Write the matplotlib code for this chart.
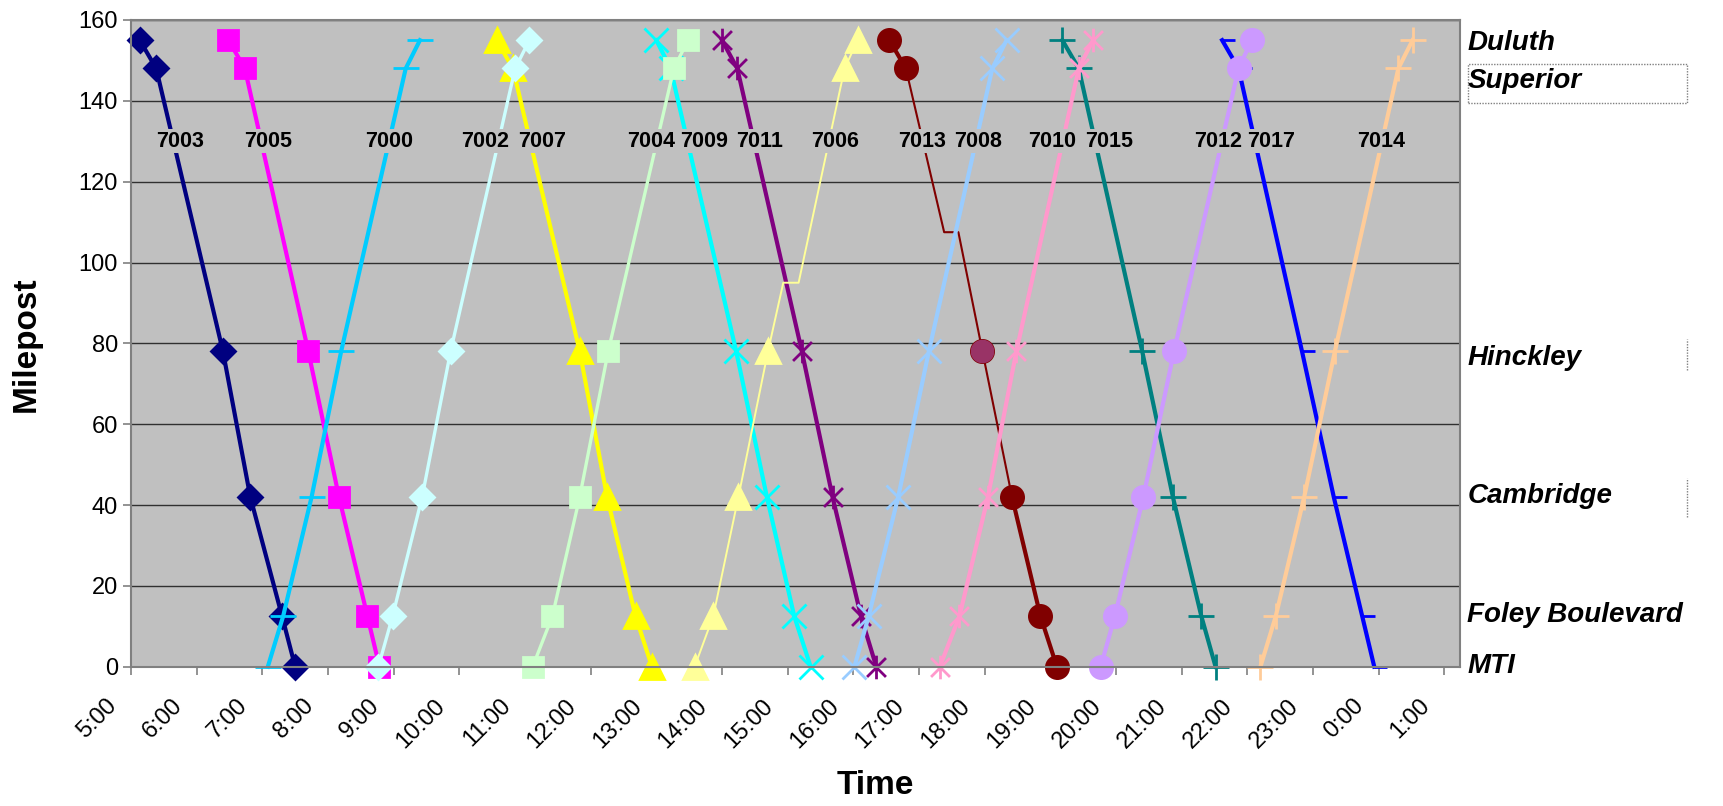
import matplotlib.pyplot as plt
import matplotlib.transforms as mtransforms
from matplotlib.path import Path
from matplotlib.patches import Rectangle

plt.rcParams['font.family'] = ['Liberation Sans', 'DejaVu Sans']

# stations and mileposts (north -> south)
stations = ["Duluth", "Superior", "Hinckley", "Cambridge", "Foley Boulevard", "MTI"]
mileposts = [155, 148, 78, 42, 12.5, 0]
south_mp = mileposts
north_mp = mileposts[::-1]

# southbound trains: Duluth, Superior, Hinckley, Cambridge, Foley Blvd, MTI
t7003 = ["5:08", "5:23", "6:24", "6:49", "7:18", "7:30"]
t7005 = ["6:29", "6:44", "7:42", "8:10", "8:36", "8:47"]
t7007 = ["10:34", "10:49", "11:50", "12:15", "12:41", "12:56"]
t7009 = ["13:00", "13:13", "14:13", "14:41", "15:06", "15:21"]
t7011 = ["14:00", "14:14", "15:13", "15:41", "16:07", "16:21"]
t7015 = ["19:11", "19:26", "20:24", "20:52", "21:18", "21:31"]
t7017 = ["21:37", "21:52", "22:50", "23:19", "23:45", "23:56"]
# 7013 waits in a siding at MP 107.5
t7013 = ["16:33", "16:48", "17:23", "17:36", "17:58", "18:25", "18:51", "19:06"]
mp7013 = [155, 148, 107.5, 107.5, 78, 42, 12.5, 0]

# northbound trains: MTI, Foley Blvd, Cambridge, Hinckley, Superior, Duluth
t7000 = ["7:05", "7:19", "7:45", "8:12", "9:11", "9:24"]
t7002 = ["8:46", "8:59", "9:26", "9:52", "10:51", "11:04"]
t7004 = ["11:07", "11:25", "11:50", "12:16", "13:16", "13:29"]
t7008 = ["16:01", "16:14", "16:41", "17:09", "18:07", "18:20"]
t7010 = ["17:19", "17:37", "18:03", "18:29", "19:26", "19:39"]
t7012 = ["19:46", "19:59", "20:25", "20:53", "21:52", "22:04"]
t7014 = ["22:12", "22:26", "22:52", "23:20", "0:18", "0:31"]
# 7006 waits in a siding at MP 95
t7006 = ["13:35", "13:52", "14:15", "14:42", "14:56", "15:10", "15:52", "16:04"]
mp7006 = [0, 12.5, 42, 78, 95, 95, 148, 155]

train_names = ["7003", "7005", "7000", "7002", "7007", "7004", "7009", "7011",
               "7006", "7013", "7008", "7010", "7015", "7012", "7017", "7014"]
label_times = ["5:45", "7:05", "8:56", "10:24", "11:16", "12:55", "13:44", "14:34",
               "15:43", "17:03", "17:54", "19:02", "19:54", "21:33", "22:22", "0:02"]

hour_ticks = list(range(5, 26))
hour_labels = [f"{h % 24}:00" for h in hour_ticks]


def hrs(s):
    h, m = s.split(":")
    h = int(h) + int(m) / 60
    return h + 24 if h < 5 else h


star = Path([(0, -1), (0, 1), (-0.8, -0.8), (0.8, 0.8), (-0.8, 0.8), (0.8, -0.8)],
            [Path.MOVETO, Path.LINETO] * 3)
halfdash = Path([(0, 0), (1, 0)], [Path.MOVETO, Path.LINETO])

# name, times, mileposts, color, marker, markersize, linewidth
# odd trains first so the even ones sit on top, like the original
series = [
    ("7003", t7003, south_mp, "#000080", "D", 12, 3),
    ("7005", t7005, south_mp, "#FF00FF", "s", 15, 3),
    ("7007", t7007, south_mp, "#FFFF00", "^", 17, 3),
    ("7009", t7009, south_mp, "#00FFFF", "x", 17, 3),
    ("7011", t7011, south_mp, "#800080", star, 17, 3),
    ("7013", t7013, mp7013, "#800000", "o", 16, 1.5),
    ("7015", t7015, south_mp, "#008080", "+", 19, 3),
    ("7017", t7017, south_mp, "#0000FF", halfdash, 19, 3),
    ("7000", t7000, north_mp, "#00CCFF", "_", 19, 3),
    ("7002", t7002, north_mp, "#CCFFFF", "D", 12, 2.4),
    ("7004", t7004, north_mp, "#CCFFCC", "s", 15, 2.4),
    ("7006", t7006, mp7006, "#FFFF99", "^", 17, 1.4),
    ("7008", t7008, north_mp, "#99CCFF", "x", 17, 3),
    ("7010", t7010, north_mp, "#FF99CC", star, 17, 3),
    ("7012", t7012, north_mp, "#CC99FF", "o", 16, 3),
    ("7014", t7014, north_mp, "#FFCC99", "+", 19, 3),
]

fig = plt.figure(figsize=(17.24, 8.06), dpi=100)
ax = fig.add_axes([0.0760, 0.1728, 0.7709, 0.8024])
ax.set_facecolor("#C0C0C0")

for name, times, miles, color, marker, ms, lw in series:
    x = [hrs(t) for t in times]
    # siding stops get no marker
    marks = [i for i, m in enumerate(miles) if m in mileposts]
    if name == "7006":
        marks = [0, 1, 2, 3, 6, 7]
    if name == "7013":
        marks = [0, 1, 4, 5, 6, 7]
    ax.plot(x, miles, color=color, lw=lw, marker=marker, ms=ms, mew=2,
            markevery=marks, clip_on=False, solid_joinstyle="round")
    if name == "7013":
        # thick ends, odd coloured marker at Hinckley
        ax.plot(x[:2], miles[:2], color=color, lw=3, clip_on=False)
        ax.plot(x[5:], miles[5:], color=color, lw=3, clip_on=False)
        ax.plot(x[4], miles[4], "o", color="#993366", ms=16, clip_on=False)

for name, t in zip(train_names, label_times):
    ax.text(hrs(t), 130, name, ha="center", va="center", fontsize=15.5,
            fontweight="bold", zorder=10,
            bbox=dict(fc="#C0C0C0", ec="none", pad=1))

ax.set_xlim(5, 25.24)
ax.set_ylim(0, 160)
ax.set_yticks(range(0, 161, 20))
ax.set_xticks(hour_ticks)
ax.set_xticklabels([])
# rotated hour labels, placed by hand (down and a little left of each tick)
lab_trans = ax.get_xaxis_transform() + mtransforms.ScaledTranslation(-0.18, -0.36, fig.dpi_scale_trans)
for h, lab in zip(hour_ticks, hour_labels):
    ax.text(h, 0, lab, transform=lab_trans, rotation=45, ha="right", va="center",
            rotation_mode="anchor", fontsize=17, clip_on=False)

ax.yaxis.grid(True, color="#303030", lw=1)
ax.set_axisbelow(True)
for sp in ax.spines.values():
    sp.set_color("#808080")
    sp.set_linewidth(1.5)
ax.tick_params(direction="out", length=6, color="#808080", labelsize=17, width=1.2)

fig.text(0.015, 0.573, "Milepost", rotation=90, fontsize=24, fontweight="bold",
         ha="center", va="center")
fig.text(0.508, 0.025, "Time", fontsize=24, fontweight="bold", ha="center", va="center")

# station names to the right of the plot
label_base = [152.5, 143.1, 74.6, 40.5, 11.1, -1.5]
trans = ax.get_yaxis_transform()
for st, yb in zip(stations, label_base):
    t = ax.text(1.0055, yb, st, transform=trans, fontsize=20, fontweight="bold",
                style="italic", ha="left", va="baseline", clip_on=False)
    if st == "Foley Boulevard":
        # the original text box cuts off the descender
        t.set_clip_path(Rectangle((0.85, 0.0), 0.15, 0.242, transform=fig.transFigure))

fig.add_artist(Rectangle((0.8513, 0.8718), 0.127, 0.0488, transform=fig.transFigure,
                         fill=False, ec="#808080", ls=(0, (1, 1)), lw=1))
fig.add_artist(plt.Line2D([0.9784, 0.9784], [0.541, 0.580], transform=fig.transFigure,
                          color="#808080", ls=(0, (1, 1)), lw=1))
fig.add_artist(plt.Line2D([0.9784, 0.9784], [0.359, 0.407], transform=fig.transFigure,
                          color="#808080", ls=(0, (1, 1)), lw=1))

fig.savefig("out.png", dpi=100)
